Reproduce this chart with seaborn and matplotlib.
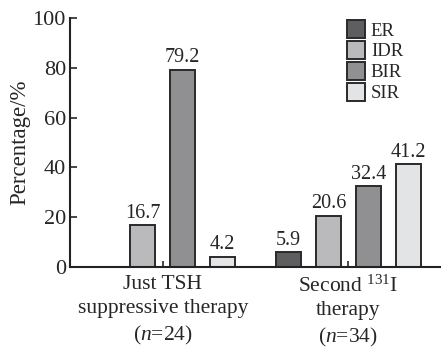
import matplotlib
matplotlib.use("Agg")
import matplotlib.pyplot as plt
import seaborn as sns
import pandas as pd

groups = ["Just TSH\nsuppressive therapy\n($n$=24)", "Second $^{131}$I\ntherapy\n($n$=34)"]
responses = ["ER", "IDR", "BIR", "SIR"]
just_tsh = [0.0, 16.7, 79.2, 4.2]
second_131i = [5.9, 20.6, 32.4, 41.2]
colors = ["#5d5e62", "#b9babe", "#8f9094", "#e3e4e6"]

df = pd.DataFrame({
    "group": [groups[0]] * 4 + [groups[1]] * 4,
    "response": responses * 2,
    "value": just_tsh + second_131i,
})

sns.set_style("ticks")
plt.rcParams["font.family"] = ["Liberation Serif", "DejaVu Serif"]
plt.rcParams["mathtext.fontset"] = "custom"
plt.rcParams["mathtext.rm"] = "Liberation Serif"
plt.rcParams["mathtext.it"] = "Liberation Serif:italic"

fig = plt.figure(figsize=(4.41, 3.51), dpi=100)
ax = fig.add_axes([0.159, 0.239, 0.841, 0.71])

sns.barplot(data=df, x="group", y="value", hue="response", hue_order=responses,
            palette=colors, width=0.86, gap=0.375, edgecolor="#2a2a2a",
            linewidth=1.4, ax=ax, legend=True)

for cont in ax.containers:
    labels = [f"{v:.1f}" if v > 0 else "" for v in cont.datavalues]
    ax.bar_label(cont, labels=labels, padding=2, fontsize=14.5)

ax.set_xlim(-0.5, 1.5)
ax.set_ylim(0, 100)
ax.set_yticks([0, 20, 40, 60, 80, 100])
ax.set_xlabel("")
ax.set_ylabel("Percentage/%", fontsize=16.5, labelpad=2)
ax.tick_params(axis="y", direction="in", length=5, width=1.2, labelsize=16, pad=3)
ax.tick_params(axis="x", direction="in", length=4, width=1.2, labelsize=15.5, pad=6)
for lbl in ax.get_xticklabels():
    lbl.set_linespacing(1.33)
for s in ["top", "right"]:
    ax.spines[s].set_visible(False)
for s in ["left", "bottom"]:
    ax.spines[s].set_linewidth(1.5)
    ax.spines[s].set_color("#222222")

leg = ax.legend(loc="upper left", bbox_to_anchor=(0.715, 1.035), frameon=False,
                fontsize=13.5, handlelength=1.0, handleheight=1.05,
                handletextpad=0.3, labelspacing=0.1, borderaxespad=0.2)

fig.savefig("out.png", dpi=100)
